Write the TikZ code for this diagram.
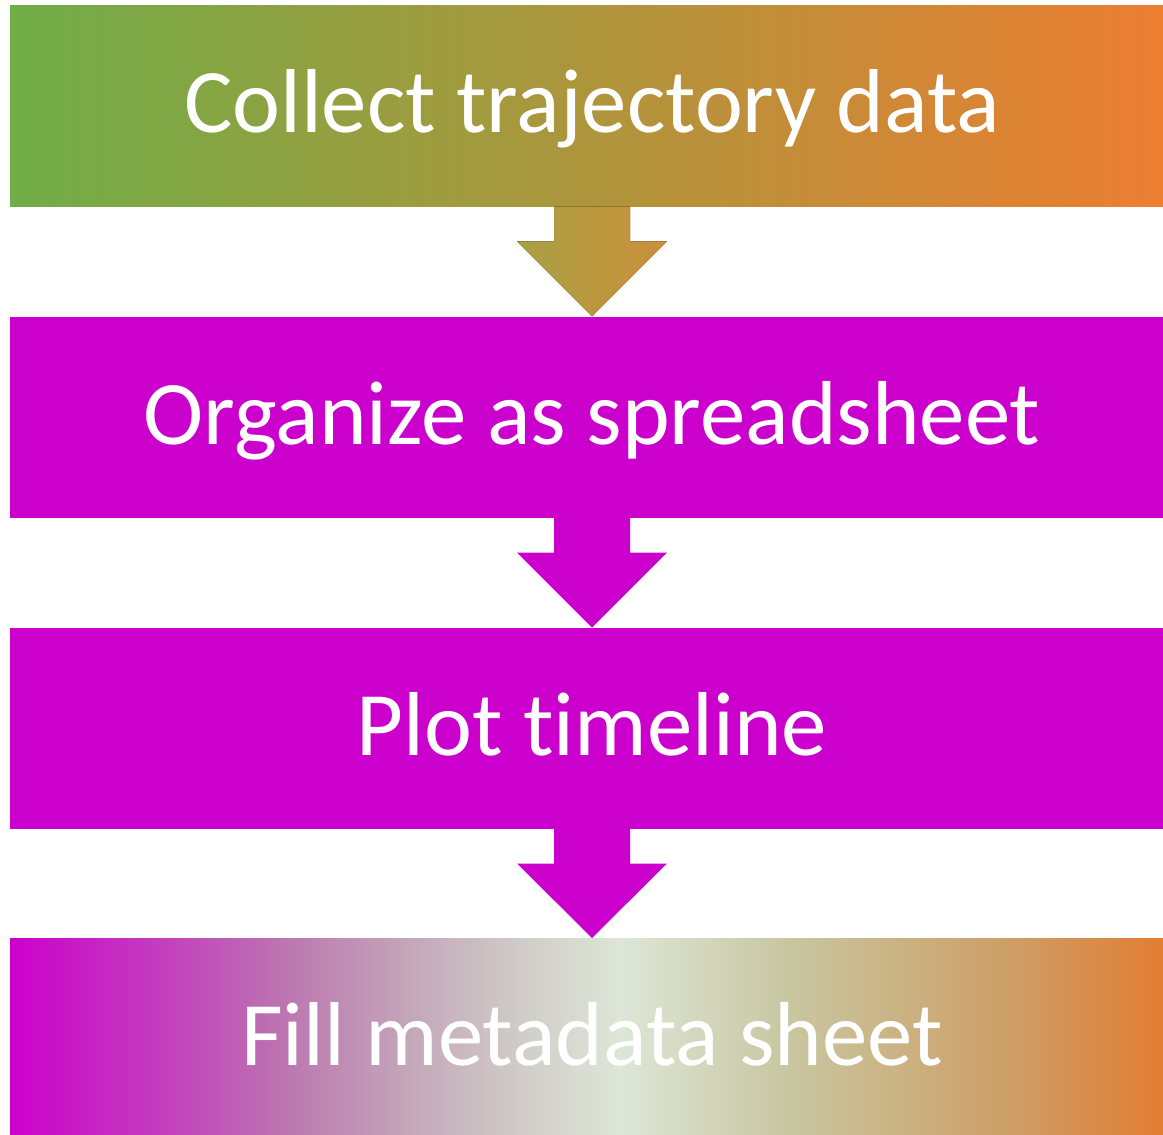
\documentclass[tikz,border=0pt]{standalone}
\usepackage{fontspec}
\setmainfont{Carlito}[Ligatures=NoCommon]
\usetikzlibrary{calc}
\definecolor{cgreen}{RGB}{112,173,71}
\definecolor{corange}{RGB}{237,125,49}
\definecolor{cmag}{RGB}{204,0,204}
\definecolor{arrL}{RGB}{168,159,68}
\definecolor{arrR}{RGB}{204,144,58}
\definecolor{sA}{RGB}{204,0,204}
\definecolor{sB}{RGB}{194,70,188}
\definecolor{sC}{RGB}{188,120,176}
\definecolor{sD}{RGB}{196,165,185}
\definecolor{sE}{RGB}{208,205,200}
\definecolor{sF}{RGB}{221,230,215}
\definecolor{sG}{RGB}{200,198,160}
\definecolor{sH}{RGB}{205,160,105}
\definecolor{sI}{RGB}{226,125,52}
\pgfdeclarehorizontalshading{lastbox}{100bp}{color(0bp)=(sA); color(25bp)=(sA); color(32.3bp)=(sB); color(37bp)=(sC); color(42bp)=(sD); color(47bp)=(sE); color(51.2bp)=(sF); color(58.5bp)=(sG); color(67.5bp)=(sH); color(74.5bp)=(sI); color(100bp)=(sI)}
\tikzset{
  stepbox/.style={minimum width=1164pt, minimum height=201pt, inner sep=0pt, outer sep=0pt, anchor=north west, draw=none},
  steplabel/.style={anchor=base, text=white, font=\fontsize{90.8}{100}\selectfont, inner sep=0pt},
}
\begin{document}
\begin{tikzpicture}[x=1pt,y=-1pt]
\useasboundingbox (0,0) rectangle (1163,1135);
\clip (0,0) rectangle (1163,1135);
\node[stepbox, left color=cgreen, right color=corange] (b1) at (10,5.3) {};
\node[stepbox, fill=cmag] (b2) at (10,316.5) {};
\node[stepbox, fill=cmag] (b3) at (10,627.5) {};
\node[stepbox, shading=lastbox] (b4) at (10,938) {};
\node[steplabel] (t1) at ($(b1.center)+(0,27)$) {Collect trajectory data};
\node[steplabel] (t2) at ($(b2.center)+(0,27)$) {Organize as spreadsheet};
\node[steplabel] (t3) at ($(b3.center)+(0,27)$) {Plot timeline};
\node[steplabel] (t4) at ($(b4.center)+(0,27)$) {Fill metadata sheet};
\newcommand{\blockarrow}[3]{%
  \fill[#3] ($(#1.south)+(-38,0)$) -- ($(#1.south)+(38,0)$) -- ($(#1.south)+(38,35)$)
    -- ($(#1.south)+(75,35)$) -- (#2.north) -- ($(#1.south)+(-75,35)$)
    -- ($(#1.south)+(-38,35)$) -- cycle;}
\blockarrow{b1}{b2}{left color=arrL, right color=arrR}
\blockarrow{b2}{b3}{fill=cmag}
\blockarrow{b3}{b4}{fill=cmag}
\end{tikzpicture}
\end{document}
